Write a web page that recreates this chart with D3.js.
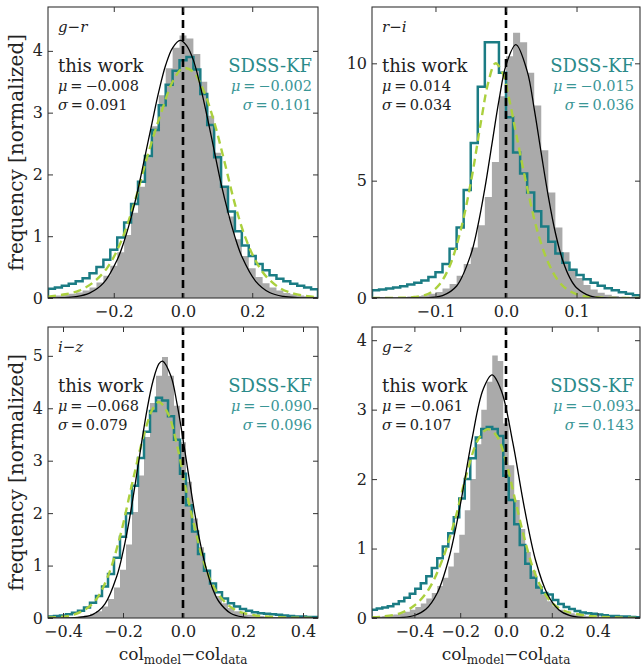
<!DOCTYPE html>
<html lang="en">
<head>
<meta charset="utf-8">
<title>colour residuals</title>
<script src="https://d3js.org/d3.v7.min.js"></script>
<style>
  body { margin: 0; background: #fff; }
  svg text { font-family: "DejaVu Serif", serif; }
</style>
</head>
<body>
<script>
// labels and fit statistics for the four colours
const colours = ['g\u2212r', 'r\u2212i', 'i\u2212z', 'g\u2212z']
const thisMu = ['\u22120.008', '0.014', '\u22120.068', '\u22120.061']
const thisSigma = ['0.091', '0.034', '0.079', '0.107']
const kfMu = ['\u22120.002', '\u22120.015', '\u22120.090', '\u22120.093']
const kfSigma = ['0.101', '0.036', '0.096', '0.143']

const xDomains = [[-0.39, 0.39], [-0.19, 0.19], [-0.45, 0.45], [-0.585, 0.585]]
const yMax = [4.71, 12.4, 5.55, 4.19]
const xTicks = [[-0.2, 0, 0.2], [-0.1, 0, 0.1], [-0.4, -0.2, 0, 0.2, 0.4], [-0.4, -0.2, 0, 0.2, 0.4]]
const yTicks = [[0, 1, 2, 3, 4], [0, 5, 10], [0, 1, 2, 3, 4, 5], [0, 1, 2, 3, 4]]

// histogram bins: first edge and bin width
const binStart = [-0.39, -0.19, -0.45, -0.588]
const binWidth = [0.02, 0.01, 0.02, 0.024]

// this work (grey filled histograms)
const greyGR = [0.03, 0.04, 0.05, 0.07, 0.09, 0.12, 0.17, 0.25, 0.36, 0.52, 0.74, 1.02, 1.38, 1.80, 2.28, 2.78, 3.28, 3.72, 4.05, 4.25,
  4.20, 3.95, 3.50, 2.95, 2.35, 1.80, 1.32, 0.95, 0.68, 0.48, 0.34, 0.24, 0.17, 0.12, 0.08, 0.06, 0.04, 0.03, 0.02]
const greyRI = [0.01, 0.02, 0.02, 0.03, 0.04, 0.06, 0.08, 0.12, 0.18, 0.26, 0.40, 0.60, 0.95, 1.45, 2.15, 3.10, 4.30, 5.80, 8.60, 10.3,
  11.3, 10.9, 9.6, 8.2, 6.3, 4.5, 3.0, 1.95, 1.25, 0.85, 0.55, 0.36, 0.22, 0.14, 0.08, 0.05, 0.03, 0.02]
const greyIZ = [0.01, 0.01, 0.01, 0.02, 0.02, 0.03, 0.05, 0.08, 0.13, 0.22, 0.36, 0.58, 0.92, 1.40, 2.02, 2.72, 3.45, 4.10, 4.62, 4.98,
  4.62, 4.05, 3.35, 2.60, 1.90, 1.35, 0.92, 0.62, 0.42, 0.28, 0.19, 0.13, 0.09, 0.06, 0.05, 0.04, 0.03, 0.02, 0.02, 0.01,
  0.01, 0.01, 0, 0, 0]
const greyGZ = [0.02, 0.02, 0.03, 0.04, 0.05, 0.07, 0.09, 0.12, 0.16, 0.21, 0.28, 0.36, 0.46, 0.58, 0.74, 0.94, 1.20, 1.55, 2.00, 2.50,
  3.00, 3.40, 3.78, 3.70, 2.80, 2.20, 1.70, 1.28, 0.95, 0.68, 0.48, 0.34, 0.24, 0.17, 0.12, 0.09, 0.07, 0.05, 0.04, 0.03,
  0.02, 0.02, 0.01, 0.01, 0.01, 0, 0, 0, 0]

// SDSS-KF (teal step histograms)
const kfGR = [0.15, 0.17, 0.20, 0.23, 0.27, 0.32, 0.40, 0.50, 0.62, 0.78, 0.98, 1.22, 1.52, 1.88, 2.30, 2.72, 3.12, 3.45, 3.68, 3.85,
  3.90, 3.70, 3.30, 2.80, 2.28, 1.80, 1.40, 1.08, 0.85, 0.68, 0.55, 0.45, 0.37, 0.31, 0.27, 0.23, 0.20, 0.17, 0.14]
const kfRI = [0.33, 0.36, 0.40, 0.45, 0.50, 0.57, 0.65, 0.75, 0.90, 1.10, 1.45, 2.10, 3.00, 4.60, 6.60, 9.00, 10.9, 10.9, 9.6, 7.7,
  6.2, 5.3, 4.5, 3.7, 3.05, 2.4, 1.9, 1.5, 1.2, 0.98, 0.80, 0.65, 0.52, 0.42, 0.33, 0.25, 0.18, 0.12]
const kfIZ = [0.03, 0.04, 0.05, 0.07, 0.10, 0.14, 0.20, 0.29, 0.42, 0.60, 0.84, 1.15, 1.55, 2.00, 2.52, 3.05, 3.55, 3.95, 4.20, 4.15,
  3.85, 3.40, 2.75, 2.15, 1.65, 1.22, 0.90, 0.66, 0.49, 0.37, 0.28, 0.22, 0.17, 0.14, 0.11, 0.09, 0.08, 0.07, 0.06, 0.05,
  0.04, 0.03, 0.03, 0.02, 0.02]
const kfGZ = [0.12, 0.135, 0.15, 0.17, 0.20, 0.24, 0.29, 0.35, 0.42, 0.50, 0.60, 0.72, 0.86, 1.03, 1.22, 1.45, 1.72, 2.00, 2.30, 2.60,
  2.72, 2.75, 2.72, 2.62, 2.05, 1.70, 1.35, 1.05, 0.78, 0.58, 0.44, 0.36, 0.34, 0.26, 0.20, 0.16, 0.13, 0.10, 0.08, 0.07,
  0.06, 0.05, 0.04, 0.03, 0.03, 0.02, 0.02, 0.015, 0.01]

// SDSS-KF smoothed (dashed yellow-green), [x, y]
const smoothGR = [[-0.39, 0.02], [-0.34, 0.06], [-0.30, 0.12], [-0.26, 0.25], [-0.22, 0.48], [-0.18, 0.90], [-0.14, 1.55], [-0.10, 2.35],
  [-0.06, 3.05], [-0.03, 3.50], [0.0, 3.72], [0.03, 3.66], [0.06, 3.35], [0.09, 2.85], [0.12, 2.20], [0.15, 1.52], [0.18, 0.98],
  [0.21, 0.60], [0.24, 0.35], [0.28, 0.16], [0.32, 0.07], [0.36, 0.03], [0.39, 0.01]]
const smoothRI = [[-0.19, 0.0], [-0.15, 0.01], [-0.13, 0.04], [-0.11, 0.18], [-0.095, 0.55], [-0.08, 1.35], [-0.065, 2.8], [-0.05, 4.9],
  [-0.035, 7.6], [-0.025, 9.2], [-0.015, 10.0], [-0.005, 9.6], [0.005, 8.4], [0.015, 6.9], [0.03, 4.7], [0.045, 2.8], [0.06, 1.5],
  [0.075, 0.7], [0.09, 0.3], [0.11, 0.08], [0.14, 0.01], [0.19, 0.0]]
const smoothIZ = [[-0.45, 0.01], [-0.38, 0.04], [-0.33, 0.15], [-0.29, 0.35], [-0.25, 0.80], [-0.21, 1.55], [-0.17, 2.55], [-0.13, 3.50],
  [-0.10, 4.00], [-0.08, 4.12], [-0.05, 3.90], [-0.02, 3.30], [0.01, 2.45], [0.04, 1.70], [0.07, 1.05], [0.10, 0.62], [0.14, 0.30],
  [0.18, 0.14], [0.23, 0.06], [0.30, 0.02], [0.45, 0.0]]
const smoothGZ = [[-0.585, 0.01], [-0.54, 0.02], [-0.46, 0.07], [-0.40, 0.18], [-0.34, 0.40], [-0.28, 0.82], [-0.22, 1.45], [-0.17, 2.10],
  [-0.12, 2.58], [-0.08, 2.72], [-0.04, 2.62], [0.0, 2.25], [0.04, 1.70], [0.08, 1.15], [0.12, 0.70], [0.16, 0.40], [0.20, 0.22],
  [0.25, 0.11], [0.32, 0.05], [0.40, 0.02], [0.585, 0.0]]

// gaussian fits to this work (thin black), [x, y]
const fitGR = [[-0.39, 0], [-0.35, 0.005], [-0.31, 0.021], [-0.27, 0.079], [-0.23, 0.24], [-0.19, 0.62], [-0.17, 0.92], [-0.15, 1.30],
  [-0.13, 1.76], [-0.11, 2.29], [-0.09, 2.82], [-0.07, 3.34], [-0.05, 3.77], [-0.03, 4.05], [-0.008, 4.17], [0.01, 4.09], [0.03, 3.85],
  [0.05, 3.43], [0.07, 2.93], [0.09, 2.39], [0.11, 1.85], [0.13, 1.39], [0.15, 0.99], [0.17, 0.67], [0.21, 0.27], [0.25, 0.089],
  [0.29, 0.025], [0.33, 0.006], [0.39, 0]]
const fitRI = [[-0.19, 0], [-0.13, 0.001], [-0.11, 0.014], [-0.09, 0.10], [-0.07, 0.51], [-0.05, 1.84], [-0.04, 3.06], [-0.03, 4.67],
  [-0.02, 6.55], [-0.01, 8.42], [0.0, 9.92], [0.014, 10.8], [0.03, 9.67], [0.04, 8.06], [0.05, 6.16], [0.06, 4.33], [0.07, 2.78],
  [0.08, 1.64], [0.09, 0.89], [0.10, 0.44], [0.12, 0.083], [0.14, 0.011], [0.19, 0]]
const fitIZ = [[-0.45, 0], [-0.35, 0.01], [-0.30, 0.07], [-0.26, 0.27], [-0.22, 0.81], [-0.20, 1.26], [-0.18, 1.84], [-0.16, 2.53],
  [-0.14, 3.27], [-0.12, 3.97], [-0.10, 4.52], [-0.08, 4.85], [-0.068, 4.90], [-0.04, 4.61], [-0.02, 4.09], [0.0, 3.41], [0.02, 2.68],
  [0.04, 1.97], [0.06, 1.36], [0.08, 0.89], [0.10, 0.54], [0.12, 0.31], [0.16, 0.085], [0.20, 0.018], [0.26, 0.001], [0.45, 0]]
const fitGZ = [[-0.585, 0], [-0.45, 0.008], [-0.40, 0.036], [-0.35, 0.125], [-0.30, 0.36], [-0.25, 0.85], [-0.20, 1.62], [-0.15, 2.55],
  [-0.10, 3.29], [-0.061, 3.50], [-0.02, 3.27], [0.03, 2.52], [0.08, 1.59], [0.13, 0.82], [0.18, 0.35], [0.23, 0.12], [0.28, 0.034],
  [0.34, 0.006], [0.585, 0]]

const greys = [greyGR, greyRI, greyIZ, greyGZ]
const kfs = [kfGR, kfRI, kfIZ, kfGZ]
const smooths = [smoothGR, smoothRI, smoothIZ, smoothGZ]
const fits = [fitGR, fitRI, fitIZ, fitGZ]

const W = 641, H = 672
const lefts = [48, 372], tops = [7, 327]
const widths = [270, 268], ph = 291

const teal = '#1b7c84'

const svg = d3.select('body').append('svg')
  .attr('width', W)
  .attr('height', H)

const defs = svg.append('defs')

colours.forEach(function (name, i) {
  const col = i % 2, row = Math.floor(i / 2)
  const pw = widths[col]

  const x = d3.scaleLinear().domain(xDomains[i]).range([0, pw])
  const y = d3.scaleLinear().domain([0, yMax[i]]).range([ph, 0])

  const g = svg.append('g')
    .attr('transform', 'translate(' + lefts[col] + ',' + tops[row] + ')')

  defs.append('clipPath').attr('id', 'clip' + i)
    .append('rect').attr('width', pw).attr('height', ph)

  const plot = g.append('g').attr('clip-path', 'url(#clip' + i + ')')

  // bin edges -> step points
  const edges = greys[i].map((v, k) => [binStart[i] + k * binWidth[i], v])
  edges.push([binStart[i] + greys[i].length * binWidth[i], greys[i][greys[i].length - 1]])

  plot.append('path')
    .attr('d', d3.area()
      .x(d => x(d[0]))
      .y0(y(0))
      .y1(d => y(d[1]))
      .curve(d3.curveStepAfter)(edges))
    .attr('fill', '#aaaaaa')

  const kf = kfs[i]
  const kfPts = [[binStart[i], 0]].concat(kf.map((v, k) => [binStart[i] + k * binWidth[i], v]))
  const kfEnd = binStart[i] + kf.length * binWidth[i]
  kfPts.push([kfEnd, kf[kf.length - 1]], [kfEnd, 0])

  const line = d3.line().x(d => x(d[0])).y(d => y(d[1]))

  plot.append('path')
    .attr('d', line.curve(d3.curveStepAfter)(kfPts))
    .attr('fill', 'none')
    .attr('stroke', teal)
    .attr('stroke-width', 2.5)

  plot.append('path')
    .attr('d', line.curve(d3.curveCatmullRom)(smooths[i]))
    .attr('fill', 'none')
    .attr('stroke', '#abd03e')
    .attr('stroke-width', 2.4)
    .attr('stroke-dasharray', '8,5')

  plot.append('path')
    .attr('d', line.curve(d3.curveCatmullRom)(fits[i]))
    .attr('fill', 'none')
    .attr('stroke', '#000')
    .attr('stroke-width', 1.3)

  plot.append('line')
    .attr('x1', x(0)).attr('x2', x(0))
    .attr('y1', 0).attr('y2', ph)
    .attr('stroke', '#000')
    .attr('stroke-width', 2.6)
    .attr('stroke-dasharray', '8,5')

  // axes, ticks pointing inwards on all four sides
  const fmtX = d3.format('.1f')
  const bottom = g.append('g').attr('transform', 'translate(0,' + ph + ')')
    .call(d3.axisBottom(x).tickValues(xTicks[i]).tickSizeInner(-5).tickSizeOuter(0).tickPadding(8).tickFormat(fmtX))
  const top = g.append('g')
    .call(d3.axisTop(x).tickValues(xTicks[i]).tickSizeInner(-5).tickSizeOuter(0).tickFormat(''))
  const left = g.append('g')
    .call(d3.axisLeft(y).tickValues(yTicks[i]).tickSizeInner(-5).tickSizeOuter(0).tickPadding(5).tickFormat(d3.format('d')))
  const right = g.append('g').attr('transform', 'translate(' + pw + ',0)')
    .call(d3.axisRight(y).tickValues(yTicks[i]).tickSizeInner(-5).tickSizeOuter(0).tickFormat(''))

  ;[bottom, top, left, right].forEach(function (a) {
    a.select('.domain').remove()
    a.selectAll('line').attr('stroke', '#333')
    a.selectAll('text').attr('font-family', '"DejaVu Serif", serif').attr('font-size', 16).attr('fill', '#222')
  })

  g.append('rect')
    .attr('width', pw).attr('height', ph)
    .attr('fill', 'none')
    .attr('stroke', '#333')
    .attr('stroke-width', 1.1)

  // annotations
  const tx = 10
  g.append('text').attr('x', tx).attr('y', 25)
    .attr('font-size', 15).attr('font-style', 'italic').attr('fill', '#222')
    .text(name)

  g.append('text').attr('x', tx).attr('y', 65)
    .attr('font-size', 18).attr('fill', '#222')
    .text('this work')

  function stat(parent, sym, val) {
    parent.append('tspan').attr('font-style', 'italic').text(sym)
    parent.append('tspan').text('\u2009=\u2009' + val)
  }

  stat(g.append('text').attr('x', tx).attr('y', 84).attr('font-size', 14.5).attr('fill', '#222'), '\u03bc', thisMu[i])
  stat(g.append('text').attr('x', tx).attr('y', 103).attr('font-size', 14.5).attr('fill', '#222'), '\u03c3', thisSigma[i])

  const rx = pw - 6
  g.append('text').attr('x', rx).attr('y', 65)
    .attr('font-size', 18).attr('fill', '#2a8a8a').attr('text-anchor', 'end')
    .text('SDSS-KF')
  stat(g.append('text').attr('x', rx).attr('y', 84).attr('font-size', 14.5).attr('fill', '#3a9696').attr('text-anchor', 'end'), '\u03bc', kfMu[i])
  stat(g.append('text').attr('x', rx).attr('y', 103).attr('font-size', 14.5).attr('fill', '#3a9696').attr('text-anchor', 'end'), '\u03c3', kfSigma[i])

  if (col === 0) {
    svg.append('text')
      .attr('transform', 'translate(23,' + (tops[row] + ph / 2) + ') rotate(-90)')
      .attr('text-anchor', 'middle')
      .attr('font-size', 20)
      .attr('fill', '#222')
      .text('frequency [normalized]')
  }

  if (row === 1) {
    const t = svg.append('text')
      .attr('x', lefts[col] + pw / 2)
      .attr('y', 660)
      .attr('text-anchor', 'middle')
      .attr('font-size', 17)
      .attr('fill', '#222')
    t.append('tspan').text('col')
    t.append('tspan').attr('font-size', 12).attr('dy', 4).text('model')
    t.append('tspan').attr('dy', -4).text('\u2212col')
    t.append('tspan').attr('font-size', 12).attr('dy', 4).text('data')
  }
})
</script>
</body>
</html>
